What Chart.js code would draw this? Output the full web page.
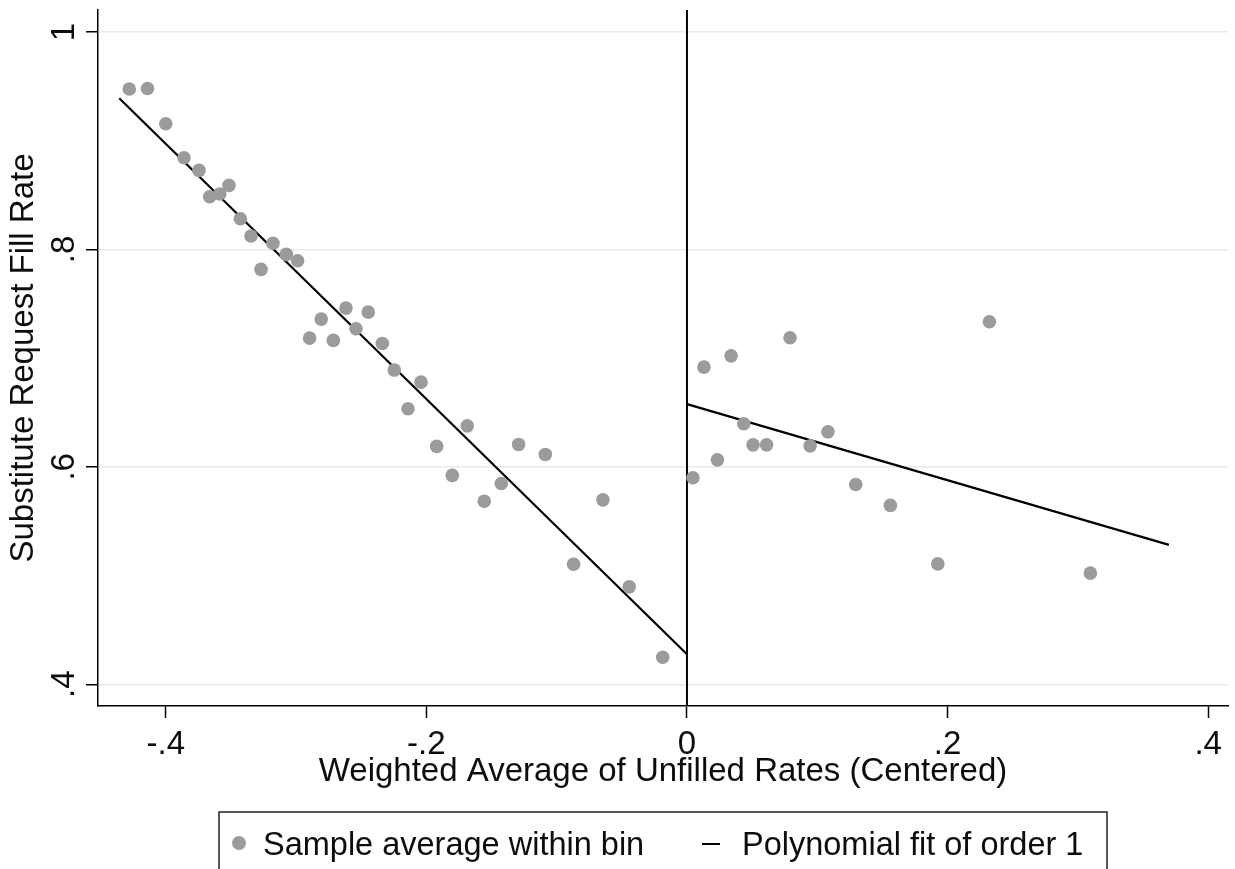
<!DOCTYPE html>
<html>
<head>
<meta charset="utf-8">
<script src="https://cdn.jsdelivr.net/npm/chart.js@4.4.1/dist/chart.umd.min.js"></script>
<style>
  html, body { margin: 0; padding: 0; background: #fff; }
</style>
</head>
<body>
<canvas id="chart" width="1235" height="869"></canvas>
<script>
// binned sample averages (x = centered unfilled rate, y = fill rate)
const binX = [-0.428, -0.414, -0.400, -0.386, -0.3745, -0.3663, -0.3586, -0.3515, -0.3428, -0.3346,
    -0.3269, -0.3177, -0.3075, -0.2988, -0.2896, -0.2807, -0.2714, -0.2617, -0.2540, -0.2446,
    -0.2338, -0.2246, -0.2141, -0.2041, -0.1921, -0.1801, -0.1686, -0.1556, -0.1425, -0.1292,
    -0.1087, -0.0870, -0.0645, -0.0443, -0.0186,
    0.0046, 0.0130, 0.0234, 0.0339, 0.0436, 0.0507, 0.0611, 0.0791, 0.0945, 0.1082,
    0.1295, 0.1561, 0.1925, 0.2321, 0.3096];
const binY = [0.9475, 0.948, 0.9156, 0.8843, 0.8727, 0.8484, 0.8509, 0.8589, 0.8282, 0.8123,
    0.7816, 0.8056, 0.7954, 0.7895, 0.7184, 0.7359, 0.7163, 0.7460, 0.7270, 0.7423,
    0.7135, 0.6890, 0.6534, 0.6779, 0.6188, 0.5921, 0.6377, 0.5684, 0.5847, 0.6206,
    0.6114, 0.5104, 0.5696, 0.4896, 0.4249,
    0.5899, 0.6917, 0.6064, 0.7021, 0.6396, 0.6202, 0.6202, 0.7187, 0.6193, 0.6322,
    0.5838, 0.5645, 0.5107, 0.7334, 0.5022];

// linear fits on each side of the cutoff
const fitLeftX = [-0.4357, 0];
const fitLeftY = [0.939, 0.4276];
const fitRightX = [0, 0.3699];
const fitRightY = [0.6577, 0.5282];

const xTicks = [-0.4, -0.2, 0, 0.2, 0.4];
const xTickLabels = ['-.4', '-.2', '0', '.2', '.4'];
const yTicks = [0.4, 0.6, 0.8, 1];
const yTickLabels = ['.4', '.6', '.8', '1'];

const FONT = '"Liberation Sans", Arial, sans-serif';
const INK = '#0d0d0d';
const DOT = '#9b9b9b';

Chart.defaults.font.family = FONT;
Chart.defaults.color = INK;

const toPoints = (xs, ys) => xs.map((x, i) => ({ x: x, y: ys[i] }));

// vertical line at the cutoff
const cutoffLine = {
    id: 'cutoffLine',
    beforeDatasetsDraw(chart) {
        const { ctx, chartArea, scales } = chart;
        const px = scales.x.getPixelForValue(0);
        ctx.save();
        ctx.strokeStyle = '#000';
        ctx.lineWidth = 2;
        ctx.beginPath();
        ctx.moveTo(px, chartArea.top);
        ctx.lineTo(px, chartArea.bottom);
        ctx.stroke();
        ctx.restore();
    }
};

// stata-style vertical y tick labels
const rotatedYLabels = {
    id: 'rotatedYLabels',
    afterDraw(chart) {
        const { ctx, scales } = chart;
        const y = scales.y;
        ctx.save();
        ctx.font = '33px ' + FONT;
        ctx.fillStyle = INK;
        ctx.textAlign = 'center';
        ctx.textBaseline = 'alphabetic';
        yTicks.forEach((v, i) => {
            ctx.save();
            ctx.translate(y.left + 74, y.getPixelForValue(v));
            ctx.rotate(-Math.PI / 2);
            ctx.fillText(yTickLabels[i], 0, 0);
            ctx.restore();
        });
        ctx.restore();
    }
};

// boxed legend under the axis title
const boxedLegend = {
    id: 'boxedLegend',
    afterDraw(chart) {
        const { ctx, chartArea } = chart;
        const cx = (chartArea.left + chartArea.right) / 2;
        const sets = chart.data.datasets;
        ctx.save();
        ctx.strokeStyle = '#222';
        ctx.lineWidth = 1.5;
        ctx.strokeRect(cx - 444, 812, 888, 80);

        ctx.fillStyle = sets[0].backgroundColor;
        ctx.beginPath();
        ctx.arc(cx - 424, 843, 7, 0, Math.PI * 2);
        ctx.fill();

        ctx.strokeStyle = sets[1].borderColor;
        ctx.lineWidth = 2;
        ctx.beginPath();
        ctx.moveTo(cx + 39, 844);
        ctx.lineTo(cx + 57, 844);
        ctx.stroke();

        ctx.font = '32.5px ' + FONT;
        ctx.fillStyle = INK;
        ctx.textBaseline = 'alphabetic';
        ctx.fillText(sets[0].label, cx - 400, 855);
        ctx.fillText(sets[1].label, cx + 79, 855);
        ctx.restore();
    }
};

new Chart(document.getElementById('chart'), {
    type: 'scatter',
    data: {
        datasets: [
            {
                label: 'Sample average within bin',
                data: toPoints(binX, binY),
                backgroundColor: DOT,
                borderWidth: 0,
                pointRadius: 6.8,
                pointHoverRadius: 6.8
            },
            {
                label: 'Polynomial fit of order 1',
                data: toPoints(fitLeftX, fitLeftY),
                showLine: true,
                borderColor: '#000',
                borderWidth: 2.2,
                pointRadius: 0
            },
            {
                label: 'Polynomial fit of order 1',
                data: toPoints(fitRightX, fitRightY),
                showLine: true,
                borderColor: '#000',
                borderWidth: 2.2,
                pointRadius: 0
            }
        ]
    },
    options: {
        responsive: false,
        animation: false,
        layout: { padding: { left: 0, top: 10, right: 7, bottom: 77 } },
        plugins: {
            legend: { display: false },
            tooltip: { enabled: false }
        },
        scales: {
            x: {
                type: 'linear',
                min: -0.452,
                max: 0.4152,
                afterBuildTicks: (scale) => { scale.ticks = xTicks.map(v => ({ value: v })); },
                afterFit: (scale) => { scale.height = 86; },
                ticks: {
                    font: { size: 33 },
                    color: INK,
                    padding: 7,
                    maxRotation: 0,
                    callback: (value) => xTickLabels[xTicks.indexOf(value)]
                },
                grid: {
                    drawOnChartArea: false,
                    drawTicks: true,
                    tickLength: 12,
                    tickColor: '#000',
                    tickWidth: 1.5
                },
                border: { display: true, color: '#000', width: 1.5 },
                title: {
                    display: true,
                    text: 'Weighted Average of Unfilled Rates (Centered)',
                    font: { size: 33 },
                    color: INK,
                    padding: 0
                }
            },
            y: {
                type: 'linear',
                min: 0.38,
                max: 1.0202,
                afterBuildTicks: (scale) => { scale.ticks = yTicks.map(v => ({ value: v })); },
                afterFit: (scale) => { scale.width = 98; },
                ticks: { display: false },
                grid: {
                    color: '#e3ecef',
                    lineWidth: 1.5,
                    drawTicks: true,
                    tickLength: 12,
                    tickColor: '#000',
                    tickWidth: 1.5
                },
                border: { display: true, color: '#000', width: 1.5 },
                title: {
                    display: true,
                    text: 'Substitute Request Fill Rate',
                    font: { size: 33 },
                    color: INK,
                    padding: { top: 4, bottom: 0 }
                }
            }
        }
    },
    plugins: [cutoffLine, rotatedYLabels, boxedLegend]
});
</script>
</body>
</html>
